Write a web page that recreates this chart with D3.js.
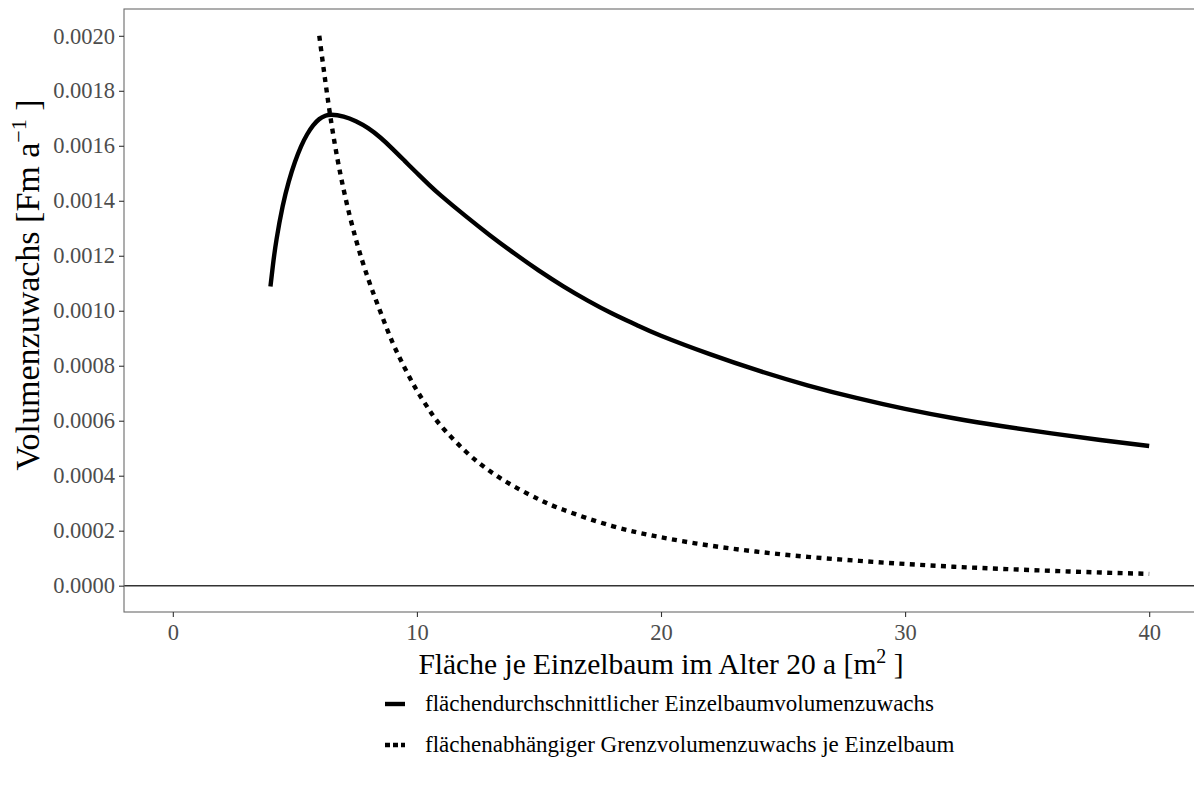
<!DOCTYPE html>
<html>
<head>
<meta charset="utf-8">
<script src="https://cdn.jsdelivr.net/npm/d3@7"></script>
<style>
  html, body { margin: 0; padding: 0; background: #ffffff; }
  svg { display: block; font-family: "Liberation Serif", "DejaVu Serif", serif; }
</style>
</head>
<body>
<svg id="chart" width="1194" height="787"></svg>
<script>
// Fläche je Einzelbaum (m²)
const avgArea = [4.0, 4.1, 4.25, 4.5, 4.75, 5.0, 5.25, 5.5, 5.75, 6.0, 6.25, 6.5, 7.0, 7.5, 8.0, 8.5, 9.0, 9.5, 10.0, 10.5, 11.0, 12.0, 13.0, 14.0, 15.0, 16.0, 17.0, 18.0, 19.0, 20.0, 22.0, 24.0, 26.0, 28.0, 30.0, 32.0, 34.0, 36.0, 38.0, 40.0];
// flächendurchschnittlicher Einzelbaumvolumenzuwachs (Fm/a)
const avgGrowth = [0.001088, 0.001165, 0.00126, 0.00138, 0.00147, 0.00154, 0.001597, 0.001641, 0.001674, 0.001697, 0.001709, 0.001713, 0.001706, 0.001689, 0.001664, 0.00163, 0.001589, 0.001545, 0.001501, 0.001458, 0.001418, 0.001344, 0.001274, 0.001208, 0.001146, 0.001089, 0.001037, 0.00099, 0.000948, 0.000909, 0.000842, 0.000782, 0.000729, 0.000683, 0.000643, 0.000609, 0.00058, 0.000554, 0.00053, 0.000508];

const margArea = [6.0, 6.5, 7.0, 7.5, 8.0, 8.5, 9.0, 9.5, 10.0, 10.5, 11.0, 12.0, 13.0, 14.0, 15.0, 16.0, 18.0, 20.0, 22.0, 24.0, 26.0, 28.0, 30.0, 32.0, 34.0, 36.0, 38.0, 40.0];
// flächenabhängiger Grenzvolumenzuwachs je Einzelbaum (Fm/a)
const margGrowth = [0.0020, 0.00168, 0.00144, 0.00126, 0.001117, 0.000997, 0.000885, 0.000792, 0.00071, 0.00064, 0.00058, 0.000488, 0.000416, 0.00036, 0.000314, 0.000276, 0.000217, 0.000176, 0.000146, 0.000123, 0.000105, 0.000091, 0.000079, 0.000069, 0.000061, 0.000054, 0.000048, 0.000043];

const xTicks = [0, 10, 20, 30, 40];
const yTicks = [0, 0.0002, 0.0004, 0.0006, 0.0008, 0.0010, 0.0012, 0.0014, 0.0016, 0.0018, 0.0020];

const seriesNames = [
  "flächendurchschnittlicher Einzelbaumvolumenzuwachs",
  "flächenabhängiger Grenzvolumenzuwachs je Einzelbaum"
];

const svg = d3.select("#chart");
const panel = { left: 124, right: 1198, top: 9, bottom: 612 };

const x = d3.scaleLinear().domain([-2, 42]).range([panel.left, panel.right]);
const y = d3.scaleLinear().domain([-0.0000957, 0.0020975]).range([panel.bottom, panel.top]);

const axisColor = "#333333";
const tickTextColor = "#4d4d4d";

// clip for panel contents
svg.append("defs").append("clipPath").attr("id", "panelClip")
  .append("rect")
  .attr("x", panel.left).attr("y", panel.top)
  .attr("width", panel.right - panel.left).attr("height", panel.bottom - panel.top);

const plot = svg.append("g").attr("clip-path", "url(#panelClip)");

// reference line at zero
plot.append("line")
  .attr("x1", panel.left).attr("x2", panel.right)
  .attr("y1", y(0)).attr("y2", y(0))
  .attr("stroke", "#333333").attr("stroke-width", 1.4);

const line = d3.line()
  .x(d => x(d[0]))
  .y(d => y(d[1]))
  .curve(d3.curveNatural);

plot.append("path")
  .datum(avgArea.map((a, i) => [a, avgGrowth[i]]))
  .attr("d", line)
  .attr("fill", "none")
  .attr("stroke", "#000000")
  .attr("stroke-width", 4.4);

plot.append("path")
  .datum(margArea.map((a, i) => [a, margGrowth[i]]))
  .attr("d", line)
  .attr("fill", "none")
  .attr("stroke", "#000000")
  .attr("stroke-width", 4.4)
  .attr("stroke-dasharray", "5,5.4");

// panel border
svg.append("rect")
  .attr("x", panel.left).attr("y", panel.top)
  .attr("width", panel.right - panel.left).attr("height", panel.bottom - panel.top)
  .attr("fill", "none").attr("stroke", "#6b6b6b").attr("stroke-width", 1.1);

// x axis
const xAxis = svg.append("g")
  .attr("transform", `translate(0,${panel.bottom})`)
  .call(d3.axisBottom(x).tickValues(xTicks).tickFormat(d3.format("d")).tickSize(5).tickPadding(7));
xAxis.select(".domain").remove();
xAxis.selectAll(".tick line").attr("stroke", axisColor).attr("stroke-width", 1.1);
xAxis.selectAll(".tick text")
  .attr("fill", tickTextColor)
  .style("font-family", "'Liberation Serif', serif")
  .style("font-size", "22.5px");

// y axis
const yAxis = svg.append("g")
  .attr("transform", `translate(${panel.left},0)`)
  .call(d3.axisLeft(y).tickValues(yTicks).tickFormat(d3.format(".4f")).tickSize(5).tickPadding(4));
yAxis.select(".domain").remove();
yAxis.selectAll(".tick line").attr("stroke", axisColor).attr("stroke-width", 1.1);
yAxis.selectAll(".tick text")
  .attr("fill", tickTextColor)
  .style("font-family", "'Liberation Serif', serif")
  .style("font-size", "22.5px");

// x axis title
const xTitle = svg.append("text")
  .attr("x", 661).attr("y", 674)
  .attr("text-anchor", "middle")
  .attr("fill", "#000000")
  .style("font-size", "29.5px");
xTitle.append("tspan").text("Fläche je Einzelbaum im Alter 20 a [m");
xTitle.append("tspan").attr("dy", -11).style("font-size", "20px").text("2");
xTitle.append("tspan").attr("dy", 11).text(" ]");

// y axis title
const yTitle = svg.append("text")
  .attr("transform", "translate(39,285) rotate(-90)")
  .attr("text-anchor", "middle")
  .attr("fill", "#000000")
  .style("font-size", "34px");
yTitle.append("tspan").text("Volumenzuwachs [Fm a");
yTitle.append("tspan").attr("dy", -13).style("font-size", "22px").text("−1");
yTitle.append("tspan").attr("dy", 13).text(" ]");

// legend
const legend = svg.append("g");
const legendY = [704, 745];
legendY.forEach((ly, i) => {
  legend.append("line")
    .attr("x1", 385).attr("x2", 405)
    .attr("y1", ly).attr("y2", ly)
    .attr("stroke", "#000000")
    .attr("stroke-width", 4.4)
    .attr("stroke-dasharray", i === 1 ? "5,3" : null);
  legend.append("text")
    .attr("x", 425).attr("y", ly + 7)
    .attr("fill", "#000000")
    .style("font-size", "23px")
    .text(seriesNames[i]);
});
</script>
</body>
</html>
